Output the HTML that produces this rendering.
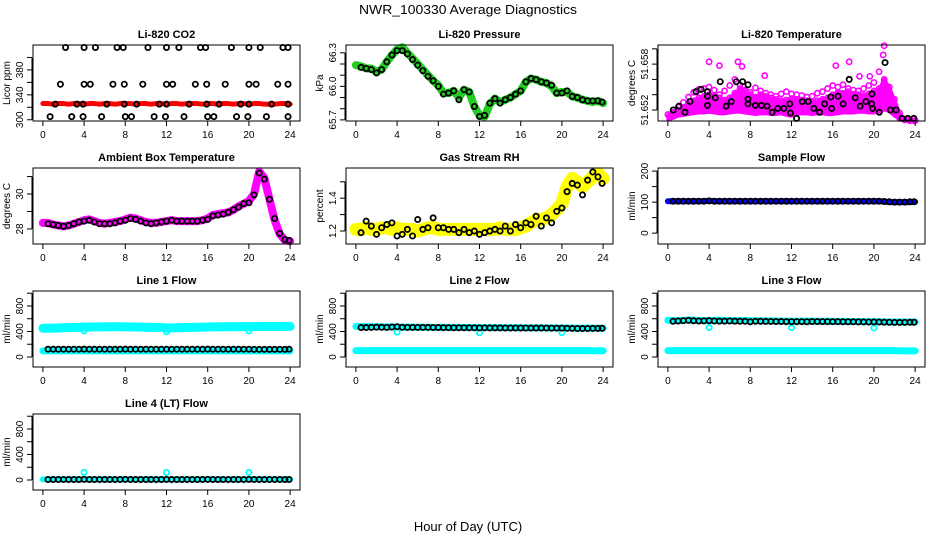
<!DOCTYPE html>
<html><head><meta charset="utf-8"><style>
html,body{margin:0;padding:0;background:#fff}
svg{display:block;font-family:"Liberation Sans",sans-serif}
</style></head><body>
<svg id="chart" width="936" height="540" viewBox="0 0 936 540" xmlns="http://www.w3.org/2000/svg">
<rect width="936" height="540" fill="#fff"/>
<text x="468" y="14" text-anchor="middle" font-size="13" textLength="218" lengthAdjust="spacingAndGlyphs">NWR_100330  Average Diagnostics</text>
<text x="468" y="531" text-anchor="middle" font-size="13">Hour of Day (UTC)</text>
</svg>
<script>
const hb=[0,0.5,1,1.5,2,2.5,3,3.5,4,4.5,5,5.5,6,6.5,7,7.5,8,8.5,9,9.5,10,10.5,11,11.5,12,12.5,13,13.5,14,14.5,15,15.5,16,16.5,17,17.5,18,18.5,19,19.5,20,20.5,21,21.5,22,22.5,23,23.5,24];
const hp=[0.5,1,1.5,2,2.5,3,3.5,4,4.5,5,5.5,6,6.5,7,7.5,8,8.5,9,9.5,10,10.5,11,11.5,12,12.5,13,13.5,14,14.5,15,15.5,16,16.5,17,17.5,18,18.5,19,19.5,20,20.5,21,21.5,22,22.5,23,23.5,23.9];
const xTicks=[0,4,8,12,16,20,24];
// CO2
const co2Band=[326,326,325,326,326,325,326,326,325,326,326,325,326,326,325,326,326,326,325,326,326,325,326,326,325,326,326,325,326,326,326,325,326,326,325,326,326,325,326,326,325,326,326,325,325,325,326,326,325];
const co2X=[2.2,4.0,5.1,7.2,7.8,10.2,12.0,13.2,15.3,15.8,18.3,20.0,21.1,23.3,23.8,1.7,4.0,4.6,6.8,7.9,9.7,12.0,12.6,14.8,15.9,17.7,20.0,20.7,22.8,23.8,1.2,3.3,3.9,6.2,7.9,9.1,11.3,12.0,14.2,15.9,17.1,19.2,20.0,22.2,23.8,0.7,2.8,3.9,5.7,8.0,8.6,10.8,11.9,13.7,16.0,16.6,18.8,19.9,21.7,23.8];
const co2Y=[416,416,416,416,416,416,416,416,416,416,416,416,416,416,416,357,357,357,357,357,357,357,357,357,357,357,357,357,357,357,325,325,325,325,325,325,325,325,325,325,325,325,325,325,325,305,305,305,305,305,305,305,305,305,305,305,305,305,305,305];
// Pressure
const pressBand=[66.19,66.18,66.16,66.16,66.13,66.15,66.22,66.28,66.33,66.35,66.30,66.25,66.20,66.15,66.10,66.05,66.01,65.94,65.94,65.96,65.90,65.97,65.95,65.82,65.74,65.73,65.84,65.89,65.86,65.88,65.90,65.93,65.96,66.04,66.07,66.06,66.04,66.03,66.00,65.94,65.95,65.95,65.91,65.90,65.88,65.87,65.86,65.87,65.85];
const pressPts=[66.17,66.16,66.15,66.12,66.15,66.22,66.28,66.32,66.32,66.29,66.24,66.19,66.14,66.09,66.05,66.00,65.93,65.94,65.96,65.88,65.97,65.95,65.82,65.73,65.74,65.85,65.89,65.85,65.88,65.90,65.93,65.96,66.04,66.07,66.06,66.04,66.03,66.01,65.94,65.94,65.96,65.91,65.90,65.88,65.87,65.87,65.87,65.86];
// Li-820 temperature
const tempHi=[51.6514,51.6516,51.6520,51.6522,51.6528,51.6532,51.6536,51.6538,51.6540,51.6538,51.6536,51.6533,51.6536,51.6542,51.6548,51.6545,51.6540,51.6537,51.6540,51.6538,51.6536,51.6534,51.6532,51.6533,51.6535,51.6534,51.6533,51.6532,51.6530,51.6532,51.6534,51.6536,51.6540,51.6543,51.6542,51.6544,51.6541,51.6540,51.6539,51.6541,51.6545,51.6548,51.6560,51.6550,51.6534,51.6516,51.6508,51.6507,51.6506];
const tempLo=[51.6507,51.6509,51.6512,51.6513,51.6514,51.6515,51.6516,51.6516,51.6517,51.6516,51.6515,51.6515,51.6516,51.6517,51.6517,51.6516,51.6515,51.6514,51.6515,51.6515,51.6514,51.6514,51.6515,51.6513,51.6512,51.6514,51.6515,51.6515,51.6514,51.6515,51.6515,51.6514,51.6514,51.6515,51.6516,51.6516,51.6516,51.6517,51.6517,51.6516,51.6516,51.6517,51.6520,51.6518,51.6512,51.6508,51.6506,51.6506,51.6506];
const tempScat=[51.6517,51.6524,51.6530,51.6537,51.6543,51.6547,51.6548,51.6550,51.6546,51.6540,51.6545,51.6552,51.6560,51.6553,51.6546,51.6543,51.6549,51.6545,51.6542,51.6540,51.6538,51.6541,51.6544,51.6541,51.6540,51.6539,51.6537,51.6538,51.6542,51.6544,51.6548,51.6552,51.6550,51.6553,51.6548,51.6546,51.6545,51.6548,51.6552,51.6556,51.6570,51.6558,51.6538,51.6518,51.6509,51.6507,51.6506,51.6506];
const tempOutX=[4.0,5.0,6.8,7.2,9.4,16.3,17.6,18.6,19.6,20.9,21.0];
const tempOutY=[51.6583,51.6578,51.6583,51.6577,51.6565,51.6578,51.6583,51.6564,51.6564,51.6592,51.6604];
const tempPtX=[0.52,1.08,1.66,2.15,2.73,3.22,3.84,3.84,3.84,4.59,5.08,5.66,6.15,6.64,7.25,7.78,7.78,7.78,8.49,9.08,9.63,10.12,10.67,11.26,11.84,11.9,12.49,13.04,13.63,14.18,14.73,15.22,15.81,15.9,16.52,17.01,17.6,18.18,18.67,19.22,19.78,19.81,19.87,20.52,21.08,21.6,22.15,22.73,23.29,23.87];
const tempPtY=[51.6520,51.6525,51.6517,51.6531,51.6544,51.6547,51.6544,51.6538,51.6526,51.6536,51.6557,51.6525,51.6531,51.6557,51.6557,51.6534,51.6553,51.6528,51.6526,51.6526,51.6525,51.6517,51.6522,51.6522,51.6528,51.6516,51.6509,51.6531,51.6531,51.6522,51.6517,51.6528,51.6537,51.6522,51.6538,51.6528,51.6560,51.6536,51.6525,51.6531,51.6528,51.6541,51.6522,51.6517,51.6582,51.6520,51.6520,51.6509,51.6509,51.6509];
// Ambient box temperature
const ambBand=[28.35,28.35,28.25,28.2,28.15,28.2,28.3,28.4,28.5,28.55,28.45,28.35,28.3,28.35,28.4,28.45,28.55,28.65,28.6,28.5,28.4,28.35,28.35,28.4,28.45,28.5,28.45,28.45,28.45,28.45,28.45,28.5,28.6,28.8,28.85,28.9,28.95,29.1,29.3,29.45,29.6,30.0,31.3,30.9,29.7,28.5,27.7,27.35,27.3];
const ambPts=[28.3,28.25,28.2,28.15,28.2,28.3,28.4,28.45,28.5,28.4,28.3,28.3,28.3,28.35,28.45,28.5,28.6,28.55,28.45,28.35,28.3,28.35,28.4,28.45,28.5,28.45,28.45,28.45,28.45,28.45,28.5,28.55,28.75,28.8,28.85,28.95,29.1,29.25,29.45,29.5,29.95,31.2,30.85,29.7,28.6,27.75,27.4,27.35];
// Gas stream RH
const rhBand=[1.21,1.21,1.22,1.21,1.21,1.22,1.22,1.21,1.22,1.21,1.21,1.21,1.20,1.21,1.22,1.22,1.21,1.21,1.21,1.21,1.21,1.21,1.21,1.21,1.21,1.21,1.21,1.21,1.22,1.21,1.21,1.21,1.22,1.23,1.25,1.27,1.27,1.28,1.30,1.33,1.37,1.47,1.52,1.50,1.47,1.50,1.53,1.55,1.52];
const rhPts=[1.19,1.26,1.23,1.18,1.22,1.24,1.25,1.17,1.18,1.21,1.17,1.27,1.21,1.22,1.28,1.22,1.22,1.21,1.21,1.19,1.21,1.19,1.20,1.18,1.19,1.20,1.21,1.20,1.23,1.20,1.24,1.22,1.25,1.24,1.29,1.23,1.28,1.25,1.32,1.34,1.44,1.49,1.48,1.42,1.51,1.56,1.53,1.49];
// Sample flow
const sampBand=[103,103,103,103,103,103,103,103,104,103,103,103,103,103,103,103,103,103,103,103,103,103,103,103,103,103,103,103,103,103,103,103,103,103,103,103,103,103,103,103,103,103,102,100,100,100,100,100,101];
const sampPts=[103,103,103,103,103,103,103,104,103,103,103,103,103,103,103,103,103,103,103,103,103,103,103,103,103,103,103,103,103,103,103,103,103,103,103,103,103,103,103,103,103,102,101,100,100,100,101,101];
// Line flows
const l1Hi=[450,450,452,455,458,460,462,465,470,470,472,472,473,474,475,474,473,472,470,468,466,465,465,464,455,455,458,460,462,464,466,468,470,472,473,474,475,475,476,476,477,477,478,478,478,479,479,480,480];
const l1Lo=[95,95,95,95,95,95,95,95,95,95,95,95,95,95,95,95,95,95,95,95,95,95,95,95,95,95,95,95,95,95,95,95,95,95,95,95,95,95,95,95,95,95,95,95,95,95,95,95,95];
const l1Pts=[122,122,122,122,122,122,122,123,122,122,122,122,122,122,122,123,122,122,122,122,122,122,122,122,122,122,122,122,122,122,122,123,122,122,122,122,122,122,122,122,120,120,120,120,120,120,120,122];
const l1OutX=[4,12,20];const l1OutY=[410,395,410];
const l2Hi=[480,478,476,475,474,473,472,470,470,469,468,468,467,466,466,465,465,464,464,463,463,462,462,461,461,460,460,460,459,459,458,458,458,457,457,456,456,455,455,455,454,454,453,453,452,452,452,451,451];
const l2Lo=[100,100,100,100,100,100,100,100,100,100,100,100,100,100,100,100,100,100,100,100,100,100,100,100,100,100,100,100,100,100,100,100,100,100,100,100,100,100,100,100,100,100,100,100,100,100,98,98,98];
const l2Pts=[462,462,465,468,466,465,470,475,466,465,465,465,464,464,463,462,460,460,459,459,459,458,458,457,457,456,456,456,455,455,455,455,455,454,454,454,454,453,453,453,450,448,447,446,447,448,449,450];
const l2OutX=[4,12,20];const l2OutY=[390,380,380];
const l3Hi=[575,572,570,575,580,578,575,572,570,575,578,575,572,570,572,574,570,568,566,568,566,565,564,563,562,561,562,563,562,561,560,560,559,558,558,557,556,556,555,554,553,552,550,548,547,548,549,550,550];
const l3Lo=[100,100,100,100,100,100,100,100,100,100,100,100,100,100,100,100,100,100,100,100,100,100,100,100,100,100,100,100,100,100,100,100,100,100,100,100,100,100,100,100,100,100,100,100,100,98,96,96,96];
const l3Pts=[560,565,570,575,568,565,567,570,565,562,562,565,562,560,560,552,560,560,558,558,557,556,555,555,555,554,553,556,556,555,555,554,554,553,553,552,551,550,549,550,548,546,545,542,542,543,544,545];
const l3OutX=[4,12,20];const l3OutY=[460,460,455];
const l4Band=[10,10,10,10,10,10,10,10,10,10,10,10,10,10,10,10,10,10,10,10,10,10,10,10,10,10,10,10,10,10,10,10,10,10,10,10,10,10,10,10,10,10,10,10,10,10,10,10,10];
const l4Pts=[8,8,8,8,8,8,8,10,8,8,8,8,8,8,8,10,8,8,8,8,8,8,8,10,8,8,8,8,8,8,8,10,8,8,8,8,8,8,8,10,8,8,8,8,8,8,8,8];
const l4OutX=[4,12,20];const l4OutY=[120,120,120];

const NS="http://www.w3.org/2000/svg";
const svg=document.getElementById('chart');
function mk(tag,attrs,parent){const e=document.createElementNS(NS,tag);for(const k in attrs)e.setAttribute(k,attrs[k]);(parent||svg).appendChild(e);return e;}
const colL=[33,346,658],rowT=[45,168,291,414],PW=267,PH=76;

function panel(col,row,title,ylab,ymin,ymax,yTicks,yLabels,name){
  const L=colL[col],T=rowT[row];
  const g=mk('g',{});
  
  
  const sx=h=>L+(h+0.96)/25.92*PW;
  const sy=v=>T+(ymax-v)/(ymax-ymin)*PH;
  const t=mk('text',{x:L+PW/2,y:T-7,'text-anchor':'middle','font-size':'11','font-weight':'bold'},g);
  t.textContent=title;
  
  
  const yl=mk('text',{x:0,y:0,'text-anchor':'middle','font-size':'10',transform:`translate(${L-23},${T+PH/2}) rotate(-90)`},g);
  yl.textContent=ylab;
  
  
  const plot=mk('g',{},g);
  const box=mk('rect',{x:L,y:T,width:PW,height:PH,fill:'none',stroke:'#000','stroke-width':1},g);
  
  
  const xa=mk('g',{},g);
  
  
  mk('line',{x1:sx(xTicks[0]),x2:sx(xTicks[xTicks.length-1]),y1:T+PH,y2:T+PH,stroke:'#000'},xa);
  xTicks.forEach(v=>{
    mk('line',{x1:sx(v),x2:sx(v),y1:T+PH,y2:T+PH+5,stroke:'#000'},xa);
    const tx=mk('text',{x:sx(v),y:T+PH+17,'text-anchor':'middle','font-size':'10'},xa);
    tx.textContent=v;
  });
  const ya=mk('g',{},g);
  
  
  mk('line',{x1:L-1,x2:L-1,y1:sy(yTicks[0]),y2:sy(yTicks[yTicks.length-1]),stroke:'#000'},ya);
  yTicks.forEach(v=>{mk('line',{x1:L-1,x2:L-6,y1:sy(v),y2:sy(v),stroke:'#000'},ya);});
  yLabels.forEach(v=>{
    const tx=mk('text',{x:0,y:0,'text-anchor':'middle','font-size':'10',transform:`translate(${L-10},${sy(v)}) rotate(-90)`},ya);
    tx.textContent=v;
  });
  return {sx,sy,plot,name};
}
function band(p,xs,ys,color,w,nm){
  const pl=mk('polyline',{points:xs.map((x,i)=>p.sx(x)+','+p.sy(ys[i])).join(' '),fill:'none',stroke:color,'stroke-width':w,'stroke-linejoin':'round','stroke-linecap':'round'},p.plot);
  
  
}
function pts(p,xs,ys,color,nm,r,sw){
  const g=mk('g',{},p.plot);
  
  
  xs.forEach((x,i)=>{mk('circle',{cx:p.sx(x),cy:p.sy(ys[i]),r:r||2.6,fill:'none',stroke:color,'stroke-width':sw||1.8},g);});
}
function area(p,xs,lo,hi,color,nm){
  const d=xs.map((x,i)=>p.sx(x)+','+p.sy(hi[i])).concat(xs.map((x,i)=>p.sx(x)+','+p.sy(lo[i])).reverse()).join(' ');
  const pg=mk('polygon',{points:d,fill:color,stroke:color,'stroke-width':3,'stroke-linejoin':'round'},p.plot);
  
  
}
const flowT=[0,200,400,600,800,1000],flowL=[0,400,800];
let p;
p=panel(0,0,'Li-820 CO2','Licor ppm',298,420,[300,320,340,360,380,400],[300,340,380],'co2');
band(p,hb,co2Band,'#ff0000',5,'red-band');
pts(p,co2X,co2Y,'#000','black-points');
p=panel(1,0,'Li-820 Pressure','kPa',65.69,66.37,[65.7,65.8,65.9,66.0,66.1,66.2,66.3],['65.7','66.0','66.3'],'pressure');
band(p,hb,pressBand,'#22cc22',8,'green-band');
pts(p,hp,pressPts,'#000','black-points');
p=panel(2,0,'Li-820 Temperature','degrees C',51.65056,51.6605,[51.652,51.654,51.656,51.658,51.660],['51.652','51.658'],'li820-temp');
area(p,hb,tempLo,tempHi,'#ff00ff','magenta-cloud');
pts(p,hb,tempHi,'#ff00ff','magenta-upper',2.6,1.6);
pts(p,hp,tempScat,'#ff00ff','magenta-scatter',2.6,1.6);
pts(p,tempOutX,tempOutY,'#ff00ff','magenta-outliers',2.6,1.6);
pts(p,tempPtX,tempPtY,'#000','black-points');
p=panel(0,1,'Ambient Box Temperature','degrees C',27.14,31.49,[28,29,30,31],[28,30],'ambient-temp');
band(p,hb,ambBand,'#ff00ff',8,'magenta-band');
pts(p,hp,ambPts,'#000','black-points');
p=panel(1,1,'Gas Stream RH','percent',1.121,1.584,[1.2,1.3,1.4,1.5],['1.2','1.4'],'rh');
band(p,hb,rhBand,'#ffff00',13,'yellow-band');
pts(p,hp,rhPts,'#000','black-points');
p=panel(2,1,'Sample Flow','ml/min',-35,210,[0,50,100,150,200],[0,100,200],'sample-flow');
band(p,hb,sampBand,'#0000ff',6,'blue-band');
pts(p,hp,sampPts,'#000','black-points');
p=panel(0,2,'Line 1 Flow','ml/min',-157,1035,flowT,flowL,'line1-flow');
band(p,hb,l1Hi,'#00ffff',9,'cyan-upper-band');
band(p,hb,l1Lo,'#00ffff',7,'cyan-lower-band');
pts(p,l1OutX,l1OutY,'#00ffff','cyan-outliers');
pts(p,hp,l1Pts,'#000','black-points');
p=panel(1,2,'Line 2 Flow','ml/min',-157,1035,flowT,flowL,'line2-flow');
band(p,hb,l2Hi,'#00ffff',7,'cyan-upper-band');
band(p,hb,l2Lo,'#00ffff',7,'cyan-lower-band');
pts(p,l2OutX,l2OutY,'#00ffff','cyan-outliers');
pts(p,hp,l2Pts,'#000','black-points');
p=panel(2,2,'Line 3 Flow','ml/min',-157,1035,flowT,flowL,'line3-flow');
band(p,hb,l3Hi,'#00ffff',7,'cyan-upper-band');
band(p,hb,l3Lo,'#00ffff',7,'cyan-lower-band');
pts(p,l3OutX,l3OutY,'#00ffff','cyan-outliers');
pts(p,hp,l3Pts,'#000','black-points');
p=panel(0,3,'Line 4 (LT) Flow','ml/min',-157,1035,flowT,flowL,'line4-flow');
band(p,hb,l4Band,'#00ffff',6,'cyan-band');
pts(p,l4OutX,l4OutY,'#00ffff','cyan-outliers');
pts(p,hp,l4Pts,'#000','black-points');
</script>
</body></html>
